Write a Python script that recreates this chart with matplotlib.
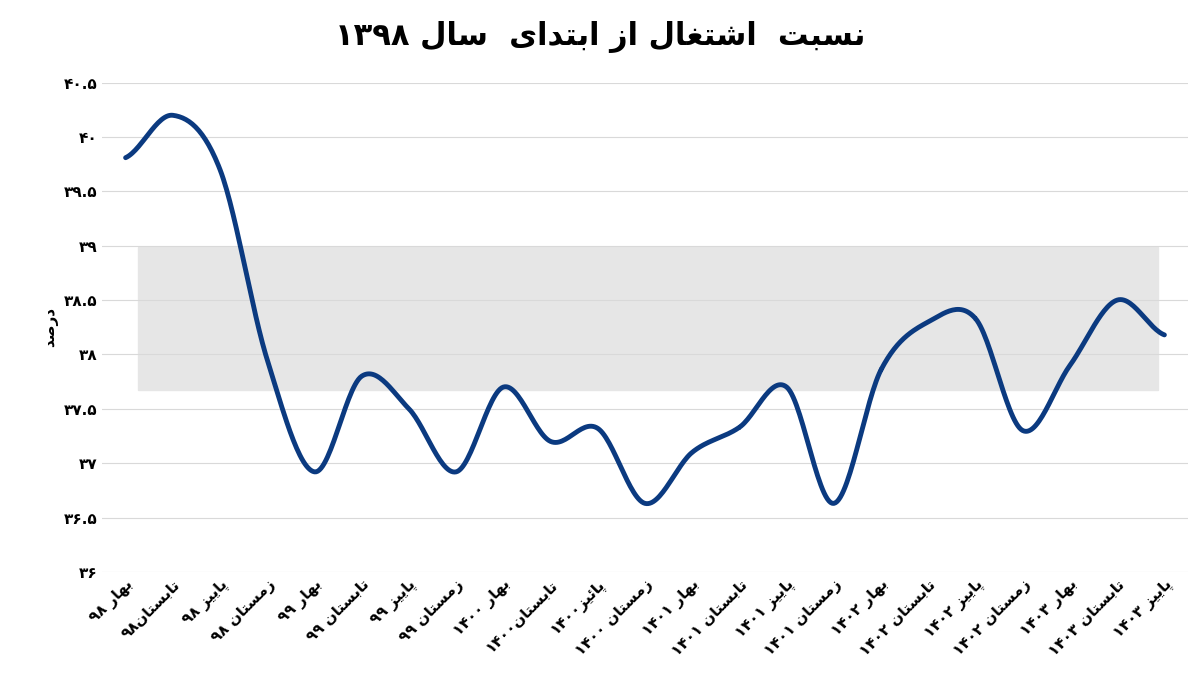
import numpy as np
import matplotlib.pyplot as plt
from matplotlib.patches import Rectangle

# --- data ---
labels = ["بهار ۹۸", "تابستان۹۸", "پاییز ۹۸", "زمستان ۹۸", "بهار ۹۹", "تابستان ۹۹",
          "پاییز ۹۹", "زمستان ۹۹", "بهار ۱۴۰۰", "تابستان۱۴۰۰", "پائیز۱۴۰۰", "زمستان ۱۴۰۰",
          "بهار ۱۴۰۱", "تابستان ۱۴۰۱", "پاییز ۱۴۰۱", "زمستان ۱۴۰۱", "بهار ۱۴۰۲",
          "تابستان ۱۴۰۲", "پاییز ۱۴۰۲", "زمستان ۱۴۰۲", "بهار ۱۴۰۳", "تابستان ۱۴۰۳", "پاییز ۱۴۰۳"]
values = [39.81, 40.2, 39.7, 37.95, 36.92, 37.8, 37.5, 36.92, 37.7, 37.2, 37.32, 36.63,
          37.1, 37.33, 37.7, 36.63, 37.86, 38.3, 38.33, 37.3, 37.9, 38.5, 38.18]
yticks = [36, 36.5, 37, 37.5, 38, 38.5, 39, 39.5, 40, 40.5]
title = "نسبت  اشتغال از ابتدای  سال ۱۳۹۸"
ylabel = "درصد"

# --- minimal Persian shaping (matplotlib has no RTL/joining) ---
FORMS = {
    'ا': (0xFE8D, 0xFE8E), 'د': (0xFEA9, 0xFEAA), 'ر': (0xFEAD, 0xFEAE),
    'ز': (0xFEAF, 0xFEB0), 'و': (0xFEED, 0xFEEE),
    'ب': (0xFE8F, 0xFE90, 0xFE91, 0xFE92), 'پ': (0xFB56, 0xFB57, 0xFB58, 0xFB59),
    'ت': (0xFE95, 0xFE96, 0xFE97, 0xFE98), 'ج': (0xFE9D, 0xFE9E, 0xFE9F, 0xFEA0),
    'ح': (0xFEA1, 0xFEA2, 0xFEA3, 0xFEA4), 'س': (0xFEB1, 0xFEB2, 0xFEB3, 0xFEB4),
    'ش': (0xFEB5, 0xFEB6, 0xFEB7, 0xFEB8), 'ص': (0xFEB9, 0xFEBA, 0xFEBB, 0xFEBC),
    'غ': (0xFECD, 0xFECE, 0xFECF, 0xFED0), 'ل': (0xFEDD, 0xFEDE, 0xFEDF, 0xFEE0),
    'م': (0xFEE1, 0xFEE2, 0xFEE3, 0xFEE4), 'ن': (0xFEE5, 0xFEE6, 0xFEE7, 0xFEE8),
    'ه': (0xFEE9, 0xFEEA, 0xFEEB, 0xFEEC), 'ی': (0xFBFC, 0xFBFD, 0xFBFE, 0xFBFF),
    'ئ': (0xFE89, 0xFE8A, 0xFE8B, 0xFE8C),
}


def fa(s):
    out = []
    for i, c in enumerate(s):
        if c not in FORMS:
            out.append(c)
            continue
        f = FORMS[c]
        prev = s[i - 1] if i > 0 else ''
        nxt = s[i + 1] if i + 1 < len(s) else ''
        jp = prev in FORMS and len(FORMS[prev]) == 4
        jn = nxt in FORMS and len(f) == 4
        if jp and jn:
            out.append(chr(f[3]))
        elif jp:
            out.append(chr(f[1]))
        elif jn:
            out.append(chr(f[2]))
        else:
            out.append(chr(f[0]))
    # visual order: reverse runs, keep digit runs LTR
    runs = []
    for c in out:
        d = '\u06F0' <= c <= '\u06F9' or c == '.'
        if runs and runs[-1][0] == d:
            runs[-1][1].append(c)
        else:
            runs.append([d, [c]])
    res = ''
    for d, chars in reversed(runs):
        res += ''.join(chars) if d else ''.join(reversed(chars))
    return res


def fa_num(v):
    s = ('%g' % v).translate(str.maketrans('0123456789', '۰۱۲۳۴۵۶۷۸۹'))
    return s


# smooth curve (Catmull-Rom)
x = np.arange(len(values))
y = np.array(values)
xs, ys = [], []
for i in range(len(x) - 1):
    p0 = y[max(i - 1, 0)]; p1 = y[i]; p2 = y[i + 1]; p3 = y[min(i + 2, len(y) - 1)]
    t = np.linspace(0, 1, 30)
    seg = 0.5 * ((2 * p1) + (-p0 + p2) * t + (2 * p0 - 5 * p1 + 4 * p2 - p3) * t ** 2
                 + (-p0 + 3 * p1 - 3 * p2 + p3) * t ** 3)
    xs.extend(x[i] + t); ys.extend(seg)

plt.rcParams['font.family'] = 'DejaVu Sans'
fig = plt.figure(figsize=(12, 6.89), dpi=100)
ax = fig.add_axes([0.085, 0.17, 0.905, 0.71])

ax.add_patch(Rectangle((0.27, 37.67), 21.6, 1.32, color='#e6e6e6', zorder=0))
ax.plot(xs, ys, color='#0b3a80', lw=3.5, solid_capstyle='round', zorder=3)

ax.set_ylim(36, 40.5)
ax.set_xlim(-0.5, len(values) - 0.5)
ax.set_yticks(yticks)
ax.set_yticklabels([fa_num(v) for v in yticks], fontsize=11, fontweight='bold')
ax.set_xticks(x)
ax.set_xticklabels([fa(l) for l in labels], rotation=45, ha='right',
                   rotation_mode='anchor', fontsize=11, fontweight='bold')
ax.grid(axis='y', color='#d9d9d9', lw=0.8)
for s in ax.spines.values():
    s.set_visible(False)
ax.tick_params(length=0)
ax.set_ylabel(fa(ylabel), fontsize=11, fontweight='bold')
fig.suptitle(fa(title), fontsize=22, fontweight='bold', y=0.97)

fig.savefig('out.png', dpi=100)
